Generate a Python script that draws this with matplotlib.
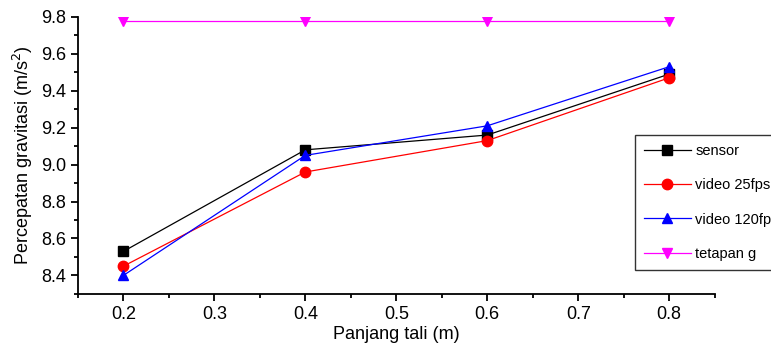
import numpy as np
import matplotlib.pyplot as plt
from matplotlib.ticker import MultipleLocator

plt.rcParams['font.family'] = ['Liberation Sans', 'DejaVu Sans']

panjang = [0.2, 0.4, 0.6, 0.8]
sensor = [8.53, 9.08, 9.16, 9.49]
video_25 = [8.45, 8.96, 9.13, 9.47]
video_120 = [8.40, 9.05, 9.21, 9.53]
tetapan_g = [9.78, 9.78, 9.78, 9.78]

fig = plt.figure(figsize=(7.71, 3.58), dpi=100)
ax = fig.add_axes([0.101, 0.179, 0.826, 0.774])

ax.plot(panjang, sensor, color='black', marker='s', markersize=6.5, linewidth=0.9, label='sensor')
ax.plot(panjang, video_25, color='red', marker='o', markersize=7.5, linewidth=0.9, label='video 25fps')
ax.plot(panjang, video_120, color='blue', marker='^', markersize=7.5, linewidth=0.9, label='video 120fps')
ax.plot(panjang, tetapan_g, color='magenta', marker='v', markersize=7.5, linewidth=0.9, label='tetapan g')

ax.set_xlim(0.15, 0.85)
ax.set_ylim(8.3, 9.8)
ax.xaxis.set_major_locator(MultipleLocator(0.1))
ax.xaxis.set_minor_locator(MultipleLocator(0.05))
ax.yaxis.set_major_locator(MultipleLocator(0.2))
ax.yaxis.set_minor_locator(MultipleLocator(0.1))
ax.set_yticks(np.arange(8.4, 9.81, 0.2))
ax.set_xticks(np.arange(0.2, 0.81, 0.1))

ax.spines['top'].set_visible(False)
ax.spines['right'].set_visible(False)
ax.spines['left'].set_linewidth(1.3)
ax.spines['bottom'].set_linewidth(1.3)
ax.tick_params(which='major', direction='out', length=5, width=1.3, labelsize=13)
ax.tick_params(which='minor', direction='out', length=3, width=1.3)

ax.set_xlabel('Panjang tali (m)', fontsize=13, labelpad=2)
ax.set_ylabel('Percepatan gravitasi (m/s$^2$)', fontsize=13, labelpad=4)

# legend sits partly past the right edge, as in the original
leg = fig.legend(loc='upper left', bbox_to_anchor=(0.824, 0.623), fontsize=10.5,
                 frameon=True, fancybox=False, edgecolor='black', handlelength=3.2,
                 handletextpad=0.3, labelspacing=1.4, borderpad=0.6, borderaxespad=0)
leg.get_frame().set_linewidth(1.0)

plt.savefig('out.png', dpi=100)
